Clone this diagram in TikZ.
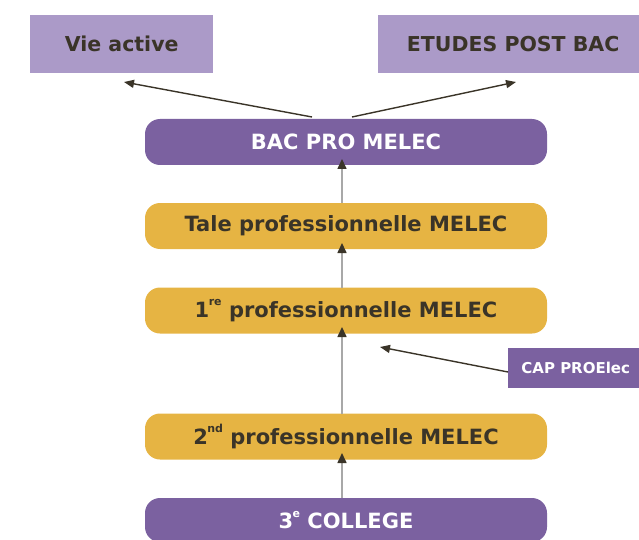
\documentclass[tikz,border=0pt]{standalone}
\usepackage{fontspec}
\setmainfont{DejaVu Sans}
\usetikzlibrary{arrows.meta}
\definecolor{lpurple}{HTML}{AB9AC8}
\definecolor{dpurple}{HTML}{7B61A0}
\definecolor{gold}{HTML}{E6B443}
\definecolor{ink}{HTML}{3A3428}
\definecolor{gline}{HTML}{A8A8A8}
\newcommand{\sups}[1]{\kern-0.5pt\raisebox{0.55em}{\fontsize{11}{12}\selectfont #1}}
\begin{document}
\begin{tikzpicture}[x=1pt,y=-1pt,
  outbox/.style={fill=lpurple, text=ink, font=\bfseries\fontsize{20.5}{24}\selectfont, inner sep=0pt, anchor=north west},
  pill/.style={rounded corners=15pt, minimum width=402pt, minimum height=46pt, inner sep=0pt, font=\bfseries\fontsize{21}{24}\selectfont},
  purplepill/.style={pill, fill=dpurple, text=white},
  goldpill/.style={pill, fill=gold, text=ink},
  uparrow/.style={draw=gline, line width=1.6pt, -{Triangle[length=10pt,width=9pt,fill=ink,color=ink]}},
  darrow/.style={draw=ink, line width=1.4pt, -{Triangle[length=10pt,width=8pt]}}]
\useasboundingbox (0,0) rectangle (639,540);
\clip (0,0) rectangle (639,540);
\node[outbox, minimum width=183pt, minimum height=58pt] (vie) at (30,15) {Vie active};
\node[outbox, minimum width=270pt, minimum height=58pt] (etu) at (378,15) {ETUDES POST BAC};
\node[purplepill] (bac) at (346,142) {BAC PRO MELEC};
\node[goldpill] (tale) at (346,226) {Tale professionnelle MELEC};
\node[goldpill] (pre) at (346,310.5) {1\sups{re} professionnelle MELEC};
\node[goldpill] (sec) at (346,436.5) {2\sups{nd} professionnelle MELEC};
\node[purplepill, minimum height=44pt] (col) at (346,520) {3\sups{e} COLLEGE};
\node[fill=dpurple, text=white, font=\bfseries\fontsize{15}{17}\selectfont, minimum width=135pt, minimum height=40pt, inner sep=0pt, anchor=north west] (cap) at (508,348) {CAP PROElec};
\coordinate (c1) at (342,119);
\coordinate (c2) at (342,165);
\coordinate (c3) at (342,203);
\coordinate (c4) at (342,249);
\coordinate (c5) at (342,288);
\coordinate (c6) at (342,333);
\coordinate (c7) at (342,414);
\coordinate (c8) at (342,459);
\coordinate (c9) at (342,498);
\coordinate (bl) at (312,117);
\coordinate (br) at (352,117);
\coordinate (vt) at (124,82);
\coordinate (et) at (516,82);
\coordinate (cp) at (380,347);
\coordinate (cs) at (508,372);
\draw[uparrow] (c3) -- ([yshift=6pt]c2);
\draw[uparrow] (c5) -- ([yshift=6pt]c4);
\draw[uparrow] (c7) -- ([yshift=6pt]c6);
\draw[uparrow] (c9) -- ([yshift=6pt]c8);
\draw[darrow] (bl) -- (vt);
\draw[darrow] (br) -- (et);
\draw[darrow] (cs) -- (cp);
\end{tikzpicture}
\end{document}
